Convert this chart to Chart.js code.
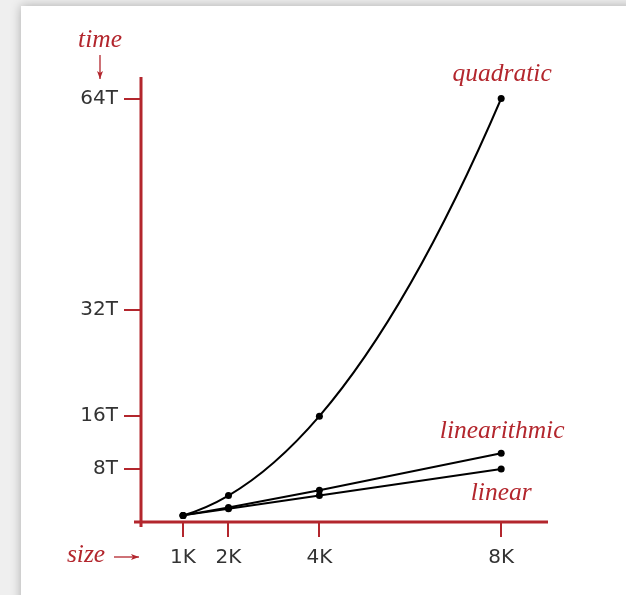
<!DOCTYPE html>
<html>
<head>
<meta charset="utf-8">
<style>
  html, body { margin: 0; padding: 0; background: #efefef; overflow: hidden; }
  canvas { display: block; }
</style>
<script src="https://cdn.jsdelivr.net/npm/chart.js@4/dist/chart.umd.min.js"></script>
</head>
<body>
<canvas id="chart" width="626" height="595"></canvas>
<script>
// problem size in K, running time in units of T
var sizes        = [1, 2, 4, 8]
var quadratic    = [1, 4, 16, 64]
var linearithmic = [1, 2.2, 4.8, 10.4]
var linear       = [1, 2, 4, 8]

var xTicks      = [1, 2, 4, 8]
var xTickLabels = ['1K', '2K', '4K', '8K']
var yTicks      = [8, 16, 32, 64]
var yTickLabels = ['8T', '16T', '32T', '64T']

var red  = '#b3262d'
var ink  = '#333333'
var serif = '"Liberation Serif", serif'
var sans  = '"DejaVu Sans", sans-serif'

function points(ys) {
  return sizes.map(function (x, i) { return { x: x, y: ys[i] } })
}

function series(label, ys, smooth) {
  return {
    label: label,
    data: points(ys),
    smooth: smooth,
    borderColor: '#000',
    backgroundColor: '#000',
    borderWidth: 2,
    pointRadius: 3.5,
    pointBorderWidth: 0,
    tension: smooth ? 0.4 : 0
  }
}

// grey page with a white sheet on it
var sheet = {
  id: 'sheet',
  beforeDraw: function (chart) {
    var ctx = chart.ctx
    ctx.save()
    ctx.fillStyle = '#efefef'
    ctx.fillRect(0, 0, chart.width, chart.height)
    ctx.shadowColor = 'rgba(0, 0, 0, 0.28)'
    ctx.shadowBlur = 10
    ctx.fillStyle = '#fff'
    ctx.fillRect(21, 6, chart.width + 40, chart.height + 40)
    ctx.restore()
  }
}

// slope of the quadratic through three neighbouring points, at x
function slope3(a, b, c, x) {
  return a.y * (2 * x - b.x - c.x) / ((a.x - b.x) * (a.x - c.x)) +
         b.y * (2 * x - a.x - c.x) / ((b.x - a.x) * (b.x - c.x)) +
         c.y * (2 * x - a.x - b.x) / ((c.x - a.x) * (c.x - b.x))
}

// bezier control points that follow a smooth parabola instead of the
// cardinal spline, which wobbles on unevenly spaced x values
var smoothCurve = {
  id: 'smoothCurve',
  beforeDatasetDraw: function (chart, args) {
    var ds = chart.data.datasets[args.index]
    if (!ds.smooth) return
    var meta = args.meta
    meta.dataset.updateControlPoints(chart.chartArea, 'x')
    var pts = meta.data
    var n = pts.length
    var m = pts.map(function (p, i) {
      var j = Math.min(Math.max(i - 1, 0), n - 3)
      return slope3(pts[j], pts[j + 1], pts[j + 2], p.x)
    })
    for (var i = 0; i < n - 1; i++) {
      var p = pts[i], q = pts[i + 1]
      var d = (q.x - p.x) / 3
      p.cp2x = p.x + d
      p.cp2y = p.y + m[i] * d
      q.cp1x = q.x - d
      q.cp1y = q.y - m[i + 1] * d
    }
  }
}

function arrow(ctx, x1, y1, x2, y2) {
  var a = Math.atan2(y2 - y1, x2 - x1)
  ctx.beginPath()
  ctx.moveTo(x1, y1)
  ctx.lineTo(x2, y2)
  ctx.stroke()
  ctx.beginPath()
  ctx.moveTo(x2, y2)
  ctx.lineTo(x2 - 8 * Math.cos(a) + 3 * Math.sin(a), y2 - 8 * Math.sin(a) - 3 * Math.cos(a))
  ctx.lineTo(x2 - 6 * Math.cos(a), y2 - 6 * Math.sin(a))
  ctx.lineTo(x2 - 8 * Math.cos(a) - 3 * Math.sin(a), y2 - 8 * Math.sin(a) + 3 * Math.cos(a))
  ctx.closePath()
  ctx.fill()
}

// axis lines, axis titles with arrows, curve names
var decor = {
  id: 'decor',
  beforeDatasetsDraw: function (chart) {
    var ctx = chart.ctx
    var area = chart.chartArea
    ctx.save()
    ctx.strokeStyle = red
    ctx.fillStyle = red
    ctx.lineWidth = 3
    ctx.beginPath()
    ctx.moveTo(area.left, area.top)
    ctx.lineTo(area.left, area.bottom + 5)
    ctx.moveTo(area.left - 7, area.bottom)
    ctx.lineTo(area.right, area.bottom)
    ctx.stroke()

    ctx.lineWidth = 1.3
    arrow(ctx, 100, 55, 100, 79)
    arrow(ctx, 114, 557, 139, 557)

    ctx.font = 'italic 25.5px ' + serif
    ctx.textAlign = 'center'
    ctx.textBaseline = 'alphabetic'
    ctx.fillText('time', 100, 47)
    ctx.fillText('size', 86, 562)
    ctx.restore()
  },
  afterDatasetsDraw: function (chart) {
    var ctx = chart.ctx
    var xs = chart.scales.x
    var ys = chart.scales.y
    var last = sizes.length - 1
    var cx = xs.getPixelForValue(sizes[last])
    ctx.save()
    ctx.fillStyle = red
    ctx.font = 'italic 25.5px ' + serif
    ctx.textAlign = 'center'
    ctx.textBaseline = 'alphabetic'
    ctx.fillText('quadratic', cx + 1, ys.getPixelForValue(quadratic[last]) - 18)
    ctx.fillText('linearithmic', cx + 1, ys.getPixelForValue(linearithmic[last]) - 15)
    ctx.fillText('linear', cx, ys.getPixelForValue(linear[last]) + 31)
    ctx.restore()
  }
}

new Chart(document.getElementById('chart'), {
  type: 'line',
  data: {
    datasets: [
      series('quadratic', quadratic, true),
      series('linearithmic', linearithmic, false),
      series('linear', linear, false)
    ]
  },
  options: {
    responsive: false,
    devicePixelRatio: 1,
    animation: false,
    layout: { padding: { left: 0, top: 77, right: 78, bottom: 0 } },
    plugins: {
      legend: { display: false },
      tooltip: { enabled: false }
    },
    scales: {
      x: {
        type: 'linear',
        min: 0.075,
        max: 9.03,
        afterFit: function (s) { s.height = 73 },
        afterBuildTicks: function (s) { s.ticks = xTicks.map(function (v) { return { value: v } }) },
        border: { display: false },
        grid: { drawOnChartArea: false, drawTicks: true, tickLength: 15, color: red, lineWidth: 2 },
        ticks: {
          color: ink,
          padding: 9,
          font: { family: sans, size: 20 },
          callback: function (v) { return xTickLabels[xTicks.indexOf(v)] }
        }
      },
      y: {
        type: 'linear',
        min: 0,
        max: 67.25,
        afterFit: function (s) { s.width = 141 },
        afterBuildTicks: function (s) { s.ticks = yTicks.map(function (v) { return { value: v } }) },
        border: { display: false },
        grid: { drawOnChartArea: false, drawTicks: true, tickLength: 17, color: red, lineWidth: 2 },
        ticks: {
          color: ink,
          padding: 6,
          font: { family: sans, size: 20 },
          callback: function (v) { return yTickLabels[yTicks.indexOf(v)] }
        }
      }
    }
  },
  plugins: [sheet, smoothCurve, decor]
})
</script>
</body>
</html>
